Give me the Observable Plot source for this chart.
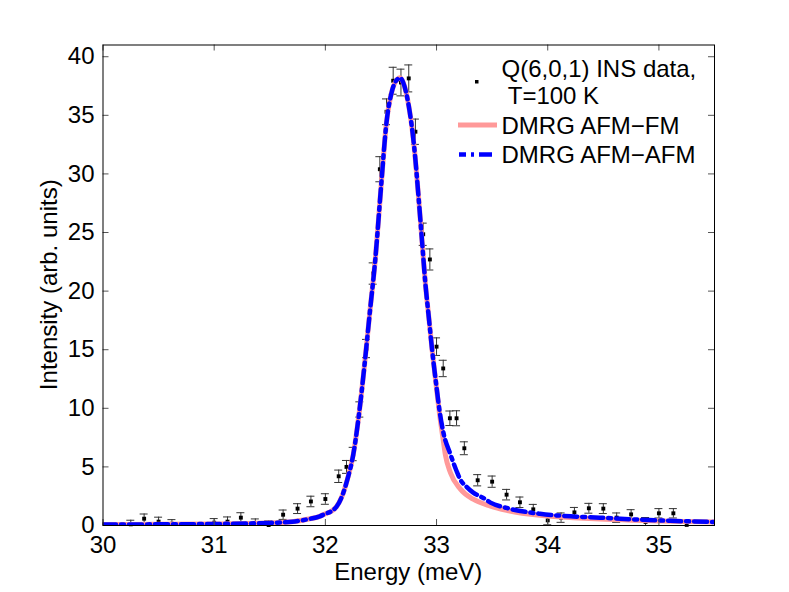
<!DOCTYPE html>
<html>
<head>
<meta charset="utf-8">
<script src="https://cdn.jsdelivr.net/npm/d3@7"></script>
<script src="https://cdn.jsdelivr.net/npm/@observablehq/plot@0.6"></script>
<style>
  html, body { margin: 0; padding: 0; background: #fff; }
  #chart { width: 789px; height: 592px; }
</style>
</head>
<body>
<div id="chart"></div>
<script>
// Tick labels
const xTicks = [30, 31, 32, 33, 34, 35];
const yTicks = [0, 5, 10, 15, 20, 25, 30, 35, 40];

// INS data: energy (meV), intensity, error bar half-length
const energy = [30.25, 30.37, 30.50, 30.62, 31.00, 31.12, 31.24, 31.37, 31.49, 31.62,
  31.75, 31.87, 32.00, 32.12, 32.19, 32.25, 32.31, 32.37, 32.43, 32.49,
  32.55, 32.61, 32.68, 32.75, 32.81, 32.88, 32.94, 33.00, 33.06, 33.12,
  33.18, 33.25, 33.37, 33.50, 33.63, 33.75, 33.87, 34.00, 34.12, 34.24,
  34.37, 34.50, 34.62, 34.75, 34.88, 35.00, 35.13, 35.25];
const intensity = [0.10, 0.58, 0.33, 0.15, 0.24, 0.33, 0.67, 0.18, 0.04, 0.92,
  1.44, 2.05, 2.26, 4.20, 5.00, 6.10, 9.90, 15.1, 21.5, 30.4,
  35.3, 37.95, 37.8, 38.15, 33.6, 24.85, 22.7, 15.26, 13.4, 9.15,
  9.15, 6.59, 3.86, 3.74, 2.63, 1.98, 1.38, 0.44, 0.67, 1.12,
  1.47, 1.44, 0.67, 0.95, 0.30, 1.04, 1.04, 0.05];
const errors = [0.35, 0.40, 0.38, 0.35, 0.35, 0.40, 0.42, 0.38, 0.35, 0.40,
  0.42, 0.45, 0.45, 0.53, 0.55, 0.57, 0.65, 0.78, 0.91, 1.07,
  1.10, 1.15, 1.14, 1.15, 1.08, 0.95, 0.90, 0.75, 0.70, 0.62,
  0.64, 0.55, 0.48, 0.48, 0.45, 0.45, 0.42, 0.38, 0.40, 0.42,
  0.42, 0.42, 0.40, 0.40, 0.38, 0.40, 0.40, 0.38];

// DMRG AFM-FM (pink solid)
const fmE = [30.0, 30.5, 31.0, 31.3, 31.5, 31.7, 31.85, 31.95, 32.0, 32.05,
  32.1, 32.15, 32.2, 32.25, 32.3, 32.35, 32.4, 32.45, 32.5, 32.55,
  32.6, 32.65, 32.67, 32.7, 32.75, 32.8, 32.84, 32.87, 32.9, 32.93,
  32.96, 33.0, 33.03, 33.06, 33.08, 33.125, 33.215, 33.33, 33.485, 33.63,
  33.93, 34.23, 34.47, 34.77, 35.1, 35.5];
const fmI = [0.08, 0.10, 0.13, 0.17, 0.22, 0.32, 0.55, 0.78, 1.0, 1.2,
  1.6, 2.5, 4.0, 6.0, 9.3, 13.5, 18.2, 22.8, 28.8, 34.4,
  37.1, 38.1, 38.2, 37.8, 35.8, 32.2, 27.8, 24.2, 20.6, 17.8,
  15.0, 11.7, 9.3, 7.3, 6.0, 4.5, 3.1, 2.24, 1.66, 1.30,
  0.87, 0.67, 0.55, 0.45, 0.37, 0.30];

// DMRG AFM-AFM (blue dash-dot)
const afmE = [30.0, 30.5, 31.0, 31.3, 31.5, 31.7, 31.85, 31.95, 32.0, 32.05,
  32.1, 32.15, 32.2, 32.25, 32.3, 32.35, 32.4, 32.45, 32.5, 32.55,
  32.6, 32.65, 32.67, 32.7, 32.75, 32.8, 32.84, 32.87, 32.9, 32.93,
  32.96, 33.0, 33.03, 33.06, 33.125, 33.18, 33.215, 33.27, 33.33, 33.42,
  33.485, 33.63, 33.93, 34.23, 34.47, 34.77, 35.1, 35.5];
const afmI = [0.08, 0.10, 0.13, 0.17, 0.22, 0.32, 0.55, 0.78, 1.0, 1.2,
  1.6, 2.5, 4.0, 6.0, 9.3, 13.5, 18.2, 22.8, 28.8, 34.4,
  37.1, 38.1, 38.2, 37.8, 35.8, 32.2, 27.8, 24.2, 20.6, 17.8,
  15.0, 11.8, 9.6, 8.0, 6.07, 4.65, 3.9, 3.3, 2.8, 2.35,
  1.95, 1.50, 1.00, 0.77, 0.67, 0.52, 0.40, 0.30];

const legendLabels = ["Q(6,0,1) INS data,", " T=100 K", "DMRG AFM\u2212FM", "DMRG AFM\u2212AFM"];

const points = energy.map((e, k) => ({e, i: intensity[k], err: errors[k]}));
const fm = fmE.map((e, k) => ({e, i: fmI[k]}));
const afm = afmE.map((e, k) => ({e, i: afmI[k]}));

const PINK = "#ff9999";
const BLUE = "#0000ff";
const FONT = "'Liberation Sans', Arial, Helvetica, sans-serif";
const DASH = "13,5,3,5";

const W = 789, H = 592, mL = 102.5, mR = 75, mT = 44.5, mB = 67;
const frameW = W - mL - mR, frameH = H - mT - mB;
const tickLen = 6;

const chart = Plot.plot({
  width: W, height: H,
  marginLeft: mL, marginRight: mR, marginTop: mT, marginBottom: mB,
  x: {domain: [30, 35.5], axis: null},
  y: {domain: [0, 41], axis: null},
  style: {fontFamily: FONT, fontSize: "24px", background: "#fff", color: "#000", overflow: "visible"},
  marks: [
    // error bars
    Plot.ruleX(points, {x: "e", y1: d => d.i - d.err, y2: d => d.i + d.err, stroke: "#333", strokeWidth: 1, clip: true}),
    Plot.ruleY(points, {y: d => d.i + d.err, x1: "e", x2: "e", insetLeft: -4, insetRight: -4, stroke: "#333", strokeWidth: 1, clip: true}),
    Plot.ruleY(points, {y: d => d.i - d.err, x1: "e", x2: "e", insetLeft: -4, insetRight: -4, stroke: "#333", strokeWidth: 1, clip: true}),
    Plot.dot(points, {x: "e", y: "i", symbol: "square", r: 2.2, fill: "#000", stroke: null}),
    // model curves
    Plot.line(fm, {x: "e", y: "i", stroke: PINK, strokeWidth: 5, curve: "monotone-x", clip: true}),
    Plot.line(afm, {x: "e", y: "i", stroke: BLUE, strokeWidth: 4.5, strokeDasharray: DASH, curve: "monotone-x", clip: true}),
    // inward ticks on all four sides
    Plot.ruleX(xTicks, {x: d => d, stroke: "#555", insetTop: frameH - tickLen}),
    Plot.ruleX(xTicks, {x: d => d, stroke: "#555", insetBottom: frameH - tickLen}),
    Plot.ruleY(yTicks, {y: d => d, stroke: "#555", insetRight: frameW - tickLen}),
    Plot.ruleY(yTicks, {y: d => d, stroke: "#555", insetLeft: frameW - tickLen}),
    Plot.frame({stroke: "#000", strokeWidth: 1}),
    // tick labels
    Plot.axisX(xTicks, {anchor: "bottom", tickSize: 0, tickPadding: 10, label: null, fontSize: 24, fill: "#000"}),
    Plot.axisY(yTicks, {anchor: "left", tickSize: 0, tickPadding: 8.5, label: null, fontSize: 24, fill: "#000"})
  ]
});

document.getElementById("chart").appendChild(chart);

const svg = d3.select(chart);
// axis titles
svg.append("text")
  .attr("x", mL + frameW / 2).attr("y", 580)
  .attr("text-anchor", "middle")
  .attr("font-family", FONT).attr("font-size", 24).attr("fill", "#000")
  .text("Energy (meV)");
svg.append("text")
  .attr("transform", `translate(57,${mT + frameH / 2}) rotate(-90)`)
  .attr("text-anchor", "middle")
  .attr("font-family", FONT).attr("font-size", 24).attr("fill", "#000")
  .text("Intensity (arb. units)");

// legend (no box)
const lg = svg.append("g").attr("font-family", FONT).attr("font-size", 24).attr("fill", "#000")
  .attr("text-anchor", "start");
lg.append("rect").attr("x", 475).attr("y", 80).attr("width", 3.5).attr("height", 3.5).attr("fill", "#000");
lg.append("text").attr("x", 501.5).attr("y", 77).attr("text-anchor", "start").text(legendLabels[0]);
lg.append("text").attr("x", 501.5).attr("y", 103.5).attr("text-anchor", "start").style("white-space", "pre").text(legendLabels[1]);
lg.append("line").attr("x1", 458).attr("x2", 497).attr("y1", 125).attr("y2", 125)
  .attr("stroke", PINK).attr("stroke-width", 5);
lg.append("text").attr("x", 501.5).attr("y", 133.5).attr("text-anchor", "start").text(legendLabels[2]);
lg.append("line").attr("x1", 459).attr("x2", 497).attr("y1", 154.5).attr("y2", 154.5)
  .attr("stroke", BLUE).attr("stroke-width", 4.5).attr("stroke-dasharray", DASH).attr("stroke-dashoffset", 6);
lg.append("text").attr("x", 501.5).attr("y", 163).attr("text-anchor", "start").text(legendLabels[3]);
</script>
</body>
</html>
